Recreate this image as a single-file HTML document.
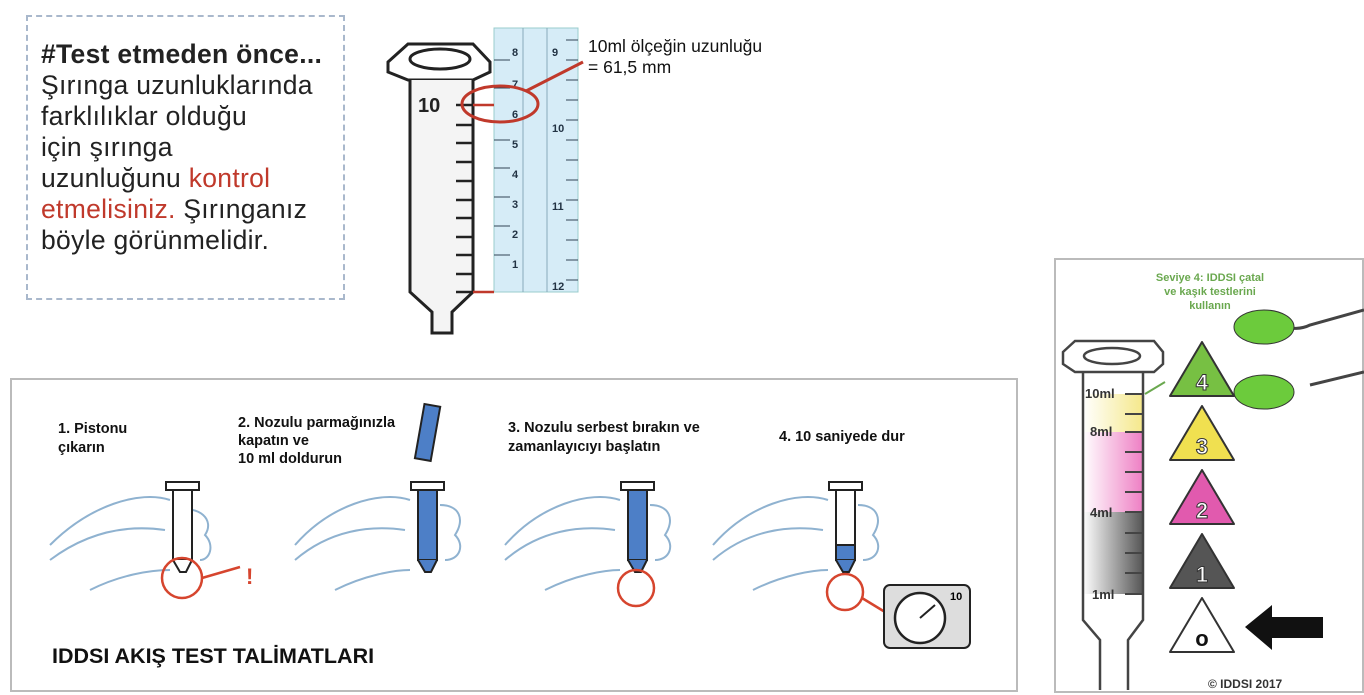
<!DOCTYPE html>
<html><head><meta charset="utf-8"><style>
body{margin:0;width:1364px;height:695px;background:#fff;overflow:hidden;font-family:"Liberation Sans",Arial,sans-serif;position:relative}
.t{position:absolute}
</style></head><body>
<div class="t" style="left:26px;top:15px;width:319px;height:285px;border:2px dashed #a9b8cc;box-sizing:border-box"></div>
<div class="t" style="left:41px;top:39px;font-size:26.5px;line-height:31px;color:#222;letter-spacing:0.3px;white-space:nowrap">
<b>#Test etmeden önce...</b><br>Şırınga uzunluklarında<br>farklılıklar olduğu<br>için şırınga<br>uzunluğunu <span style="color:#c0392b">kontrol</span><br><span style="color:#c0392b">etmelisiniz.</span> Şırınganız<br>böyle görünmelidir.</div>
<div class="t" style="left:588px;top:36px;font-size:17.5px;line-height:21px;color:#111">10ml ölçeğin uzunluğu<br>= 61,5 mm</div>

<svg class="t" style="left:0;top:0" width="1364" height="695">
<rect x="494" y="28" width="84" height="264" fill="#d6ecf7" stroke="#9cc" stroke-width="1"/>
<line x1="523" y1="28" x2="523" y2="292" stroke="#8ab"/>
<line x1="547" y1="28" x2="547" y2="292" stroke="#8ab"/>
<g stroke="#345" stroke-width="1">
<line x1="566" y1="40" x2="578" y2="40"/><line x1="566" y1="60" x2="578" y2="60"/><line x1="566" y1="80" x2="578" y2="80"/><line x1="566" y1="100" x2="578" y2="100"/><line x1="566" y1="120" x2="578" y2="120"/><line x1="566" y1="140" x2="578" y2="140"/><line x1="566" y1="160" x2="578" y2="160"/><line x1="566" y1="180" x2="578" y2="180"/><line x1="566" y1="200" x2="578" y2="200"/><line x1="566" y1="220" x2="578" y2="220"/><line x1="566" y1="240" x2="578" y2="240"/><line x1="566" y1="260" x2="578" y2="260"/><line x1="566" y1="280" x2="578" y2="280"/>
<line x1="494" y1="60" x2="510" y2="60"/><line x1="494" y1="88" x2="510" y2="88"/><line x1="494" y1="140" x2="510" y2="140"/><line x1="494" y1="168" x2="510" y2="168"/><line x1="494" y1="197" x2="510" y2="197"/><line x1="494" y1="226" x2="510" y2="226"/><line x1="494" y1="255" x2="510" y2="255"/>
</g>
<g font-size="11" fill="#234" font-weight="bold">
<text x="552" y="56">9</text><text x="552" y="132">10</text><text x="552" y="210">11</text><text x="552" y="290">12</text>
<text x="512" y="56">8</text><text x="512" y="88">7</text><text x="512" y="118">6</text><text x="512" y="148">5</text><text x="512" y="178">4</text><text x="512" y="208">3</text><text x="512" y="238">2</text><text x="512" y="268">1</text>
</g>
<polygon points="388,62 408,44 473,44 490,62 490,72 473,80 408,80 388,72" fill="#fff" stroke="#222" stroke-width="3"/>
<ellipse cx="440" cy="59" rx="30" ry="10" fill="#fff" stroke="#222" stroke-width="3"/>
<path d="M410 80 V292 L432 312 V333 H452 V312 L473 292 V80" fill="#f4f4f4" stroke="#222" stroke-width="3"/>
<g stroke="#222" stroke-width="2.5">
<line x1="456" y1="105" x2="473" y2="105"/><line x1="456" y1="125" x2="473" y2="125"/><line x1="456" y1="143" x2="473" y2="143"/><line x1="456" y1="162" x2="473" y2="162"/><line x1="456" y1="181" x2="473" y2="181"/><line x1="456" y1="200" x2="473" y2="200"/><line x1="456" y1="218" x2="473" y2="218"/><line x1="456" y1="237" x2="473" y2="237"/><line x1="456" y1="255" x2="473" y2="255"/><line x1="456" y1="274" x2="473" y2="274"/><line x1="456" y1="292" x2="473" y2="292"/>
</g>
<text x="418" y="112" font-size="20" font-weight="bold" fill="#222">10</text>
<line x1="473" y1="105" x2="494" y2="105" stroke="#c0392b" stroke-width="2.5"/>
<line x1="473" y1="292" x2="494" y2="292" stroke="#c0392b" stroke-width="2.5"/>
<ellipse cx="500" cy="104" rx="38" ry="18" fill="none" stroke="#c0392b" stroke-width="3"/>
<line x1="526" y1="91" x2="583" y2="62" stroke="#c0392b" stroke-width="3"/>

<rect x="11" y="379" width="1006" height="312" fill="#fff" stroke="#bbb" stroke-width="2"/>
<g fill="none" stroke="#8fb2d0" stroke-width="2">
<path d="M50 545 C90 505,140 490,170 500 M50 560 C90 530,130 525,165 530 M90 590 C120 575,150 570,170 570 M175 510 C200 505,215 520,205 535 C215 545,210 560,200 560"/>
<path d="M295 545 C330 505,380 490,410 500 M295 560 C330 530,370 525,405 530 M335 590 C365 575,395 570,410 570 M440 505 C460 505,465 520,455 535 C465 545,460 560,445 560"/>
<path d="M505 545 C540 505,590 490,620 500 M505 560 C540 530,580 525,615 530 M545 590 C575 575,605 570,620 570 M650 505 C670 505,675 520,665 535 C675 545,670 560,655 560"/>
<path d="M713 545 C748 505,798 490,828 500 M713 560 C748 530,788 525,823 530 M753 590 C783 575,813 570,828 570 M858 505 C878 505,883 520,873 535 C883 545,878 560,863 560"/>
</g>
<g stroke="#222" stroke-width="2">
<rect x="166" y="482" width="33" height="8" fill="#fff"/><rect x="173" y="490" width="19" height="70" fill="#fff"/><path d="M173 560 L180 572 H186 L192 560" fill="#fff"/>
<rect x="411" y="482" width="33" height="8" fill="#fff"/><rect x="418" y="490" width="19" height="70" fill="#4d7fc7"/><path d="M418 560 L425 572 H431 L437 560" fill="#4d7fc7"/>
<rect x="420" y="405" width="16" height="55" fill="#4d7fc7" transform="rotate(10 428 430)"/>
<rect x="621" y="482" width="33" height="8" fill="#fff"/><rect x="628" y="490" width="19" height="70" fill="#4d7fc7"/><path d="M628 560 L635 572 H641 L647 560" fill="#4d7fc7"/>
<rect x="829" y="482" width="33" height="8" fill="#fff"/><rect x="836" y="490" width="19" height="70" fill="#fff"/><rect x="836" y="545" width="19" height="15" fill="#4d7fc7"/><path d="M836 560 L843 572 H849 L855 560" fill="#4d7fc7"/>
</g>
<g fill="none" stroke="#d6452e" stroke-width="2.5">
<circle cx="182" cy="578" r="20"/><line x1="202" y1="578" x2="240" y2="567"/>
<circle cx="636" cy="588" r="18"/>
<circle cx="845" cy="592" r="18"/><line x1="862" y1="598" x2="885" y2="612"/>
</g>
<text x="246" y="584" font-size="22" fill="#d6452e" font-weight="bold">!</text>
<rect x="884" y="585" width="86" height="63" rx="6" fill="#ddd" stroke="#222" stroke-width="2"/>
<circle cx="920" cy="618" r="25" fill="#fff" stroke="#222" stroke-width="2.5"/>
<line x1="920" y1="618" x2="935" y2="605" stroke="#222" stroke-width="2"/>
<text x="950" y="600" font-size="11" font-weight="bold">10</text>
<g font-size="14.5" font-weight="bold" fill="#111">
<text x="58" y="433">1. Pistonu</text><text x="58" y="452">çıkarın</text>
<text x="238" y="427">2. Nozulu parmağınızla</text><text x="238" y="445">kapatın ve</text><text x="238" y="463">10 ml doldurun</text>
<text x="508" y="432">3. Nozulu serbest bırakın ve</text><text x="508" y="451">zamanlayıcıyı başlatın</text>
<text x="779" y="441">4. 10 saniyede dur</text>
</g>
<text x="52" y="663" font-size="21.5" font-weight="bold" fill="#111">IDDSI AKIŞ TEST TALİMATLARI</text>

<rect x="1055" y="259" width="308" height="433" fill="#fff" stroke="#bbb" stroke-width="2"/>
<g font-size="11" font-weight="bold" fill="#6aa84f" text-anchor="middle">
<text x="1210" y="281">Seviye 4: IDDSI çatal</text><text x="1210" y="295">ve  kaşık testlerini</text><text x="1210" y="309">kullanın</text></g>
<polygon points="1063,352 1075,341 1154,341 1163,352 1163,364 1154,372 1075,372 1063,364" fill="#fff" stroke="#444" stroke-width="2.5"/>
<ellipse cx="1112" cy="356" rx="28" ry="8" fill="#fff" stroke="#444" stroke-width="2.5"/>
<defs><linearGradient id="y" x1="0" x2="1"><stop offset="0" stop-color="#fff"/><stop offset="1" stop-color="#f5e88a"/></linearGradient>
<linearGradient id="p" x1="0" x2="1"><stop offset="0" stop-color="#fff"/><stop offset="1" stop-color="#ee7fc4"/></linearGradient>
<linearGradient id="g" x1="0" x2="1"><stop offset="0" stop-color="#fff"/><stop offset="1" stop-color="#555"/></linearGradient></defs>
<rect x="1083" y="394" width="60" height="38" fill="url(#y)"/>
<rect x="1083" y="432" width="60" height="80" fill="url(#p)"/>
<rect x="1083" y="512" width="60" height="82" fill="url(#g)"/>
<path d="M1083 372 V620 L1100 640 V690 M1143 372 V620 L1128 640 V690" fill="none" stroke="#444" stroke-width="2.5"/>
<g stroke="#444" stroke-width="2"><line x1="1125" y1="394" x2="1143" y2="394"/><line x1="1125" y1="414" x2="1143" y2="414"/><line x1="1125" y1="432" x2="1143" y2="432"/><line x1="1125" y1="452" x2="1143" y2="452"/><line x1="1125" y1="472" x2="1143" y2="472"/><line x1="1125" y1="492" x2="1143" y2="492"/><line x1="1125" y1="512" x2="1143" y2="512"/><line x1="1125" y1="533" x2="1143" y2="533"/><line x1="1125" y1="553" x2="1143" y2="553"/><line x1="1125" y1="573" x2="1143" y2="573"/><line x1="1125" y1="594" x2="1143" y2="594"/></g>
<g font-size="13" font-weight="bold" fill="#333"><text x="1085" y="398">10ml</text><text x="1090" y="436">8ml</text><text x="1090" y="517">4ml</text><text x="1092" y="599">1ml</text></g>
<line x1="1145" y1="394" x2="1165" y2="382" stroke="#6aa84f" stroke-width="2"/>
<g stroke="#333" stroke-width="2" stroke-linejoin="round">
<polygon points="1202,342 1234,396 1170,396" fill="#77c043"/>
<polygon points="1202,406 1234,460 1170,460" fill="#f0e050"/>
<polygon points="1202,470 1234,524 1170,524" fill="#e15aae"/>
<polygon points="1202,534 1234,588 1170,588" fill="#555"/>
<polygon points="1202,598 1234,652 1170,652" fill="#fff"/>
</g>
<g font-size="22" font-weight="bold" text-anchor="middle" fill="#fff" stroke="#333" stroke-width="1"><text x="1202" y="390">4</text><text x="1202" y="454">3</text><text x="1202" y="518">2</text><text x="1202" y="582">1</text></g>
<text x="1202" y="646" font-size="22" font-weight="bold" text-anchor="middle" fill="#111">o</text>
<path d="M1364 310 L1310 325 C1300 330,1290 328,1290 328 M1364 372 L1310 385" stroke="#444" stroke-width="3" fill="none"/>
<ellipse cx="1264" cy="327" rx="30" ry="17" fill="#6ccb3c" stroke="#333"/>
<ellipse cx="1264" cy="392" rx="30" ry="17" fill="#6ccb3c" stroke="#333"/>
<polygon points="1245,627 1272,605 1272,617 1323,617 1323,638 1272,638 1272,650" fill="#111"/>
<text x="1208" y="688" font-size="12" font-weight="bold" fill="#333">© IDDSI 2017</text>
</svg>
</body></html>
